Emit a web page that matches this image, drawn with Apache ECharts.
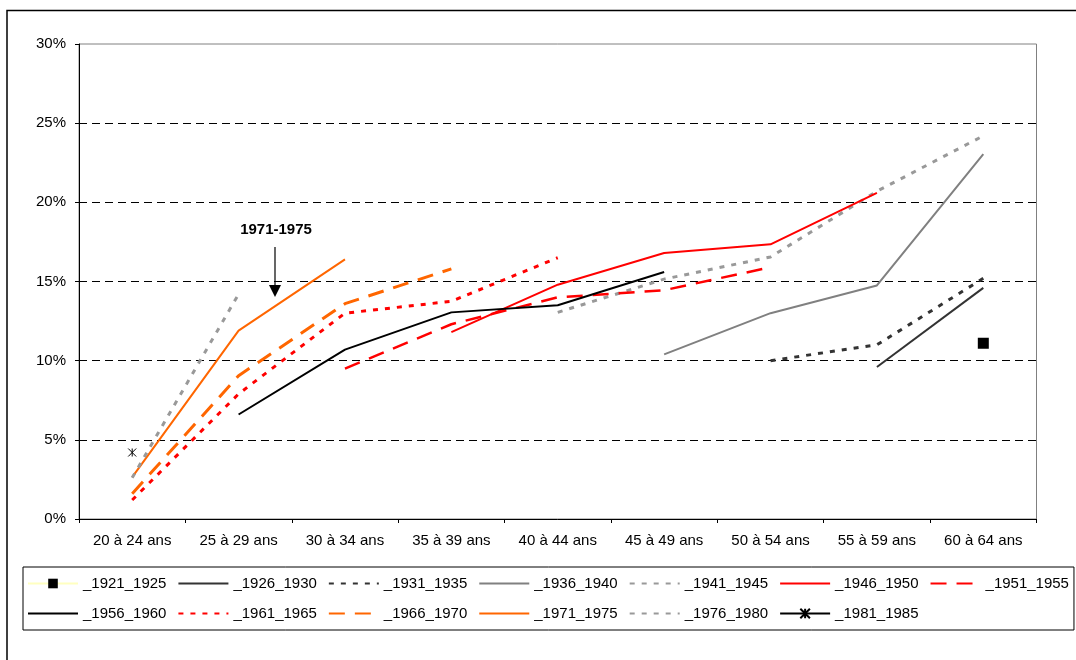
<!DOCTYPE html>
<html>
<head>
<meta charset="utf-8">
<script src="https://cdn.jsdelivr.net/npm/echarts@6/dist/echarts.min.js"></script>
<style>
html,body{margin:0;padding:0;background:#fff;}
#chart{width:1076px;height:660px;}
</style>
</head>
<body>
<div id="chart"></div>
<script>
const categories = ['20 à 24 ans','25 à 29 ans','30 à 34 ans','35 à 39 ans','40 à 44 ans','45 à 49 ans','50 à 54 ans','55 à 59 ans','60 à 64 ans'];
const yTicks = [0, 5, 10, 15, 20, 25, 30];

const s1921_1925 = [null, null, null, null, null, null, null, null, 11.1];
const s1926_1930 = [null, null, null, null, null, null, null, 9.6, 14.6];
const s1931_1935 = [null, null, null, null, null, null, 10.0, 11.0, 15.2];
const s1936_1940 = [null, null, null, null, null, 10.4, 13.0, 14.75, 23.05];
const s1941_1945 = [null, null, null, null, 13.05, 15.15, 16.55, 20.7, 24.2];
const s1946_1950 = [null, null, null, 11.8, 14.8, 16.8, 17.35, 20.6, null];
const s1951_1955 = [null, null, 9.5, 12.3, 14.0, 14.45, 15.9, null, null];
const s1956_1960 = [null, 6.6, 10.7, 13.05, 13.5, 15.6, null, null, null];
const s1961_1965 = [1.2, 7.9, 13.0, 13.75, 16.5, null, null, null, null];
const s1966_1970 = [1.6, 9.05, 13.6, 15.8, null, null, null, null, null];
const s1971_1975 = [2.65, 11.9, 16.4, null, null, null, null, null, null];
const s1976_1980 = [2.6, 14.2, null, null, null, null, null, null, null];
const s1981_1985 = [4.2, null, null, null, null, null, null, null, null];

const annotationText = '1971-1975';

const FONT = '"Liberation Sans", Arial, sans-serif';
const DOT = [5, 7];
const DASH = [16, 10];
const ASTERISK = 'path://M0,0L10,10M10,0L0,10M5,0L5,10';

function lineSeries(name, data, color, width, type, extra) {
  return Object.assign({
    name: name,
    type: 'line',
    data: data,
    symbol: 'none',
    connectNulls: false,
    silent: true,
    animation: false,
    lineStyle: { color: color, width: width, type: type },
    itemStyle: { color: color }
  }, extra || {});
}

const series = [
  lineSeries('_1921_1925', s1921_1925, '#ffffc0', 1.5, 'solid', {
    symbol: 'rect', symbolSize: 11, showSymbol: true,
    itemStyle: { color: '#000' }
  }),
  lineSeries('_1926_1930', s1926_1930, '#333333', 2, 'solid'),
  lineSeries('_1931_1935', s1931_1935, '#333333', 3, DOT),
  lineSeries('_1936_1940', s1936_1940, '#808080', 2, 'solid'),
  lineSeries('_1941_1945', s1941_1945, '#999999', 3, DOT),
  lineSeries('_1946_1950', s1946_1950, '#ff0000', 2, 'solid'),
  lineSeries('_1951_1955', s1951_1955, '#ff0000', 2.5, DASH),
  lineSeries('_1956_1960', s1956_1960, '#000000', 2, 'solid'),
  lineSeries('_1961_1965', s1961_1965, '#ff0000', 3, DOT),
  lineSeries('_1966_1970', s1966_1970, '#ff6600', 3, DASH),
  lineSeries('_1971_1975', s1971_1975, '#ff6600', 2, 'solid'),
  lineSeries('_1976_1980', s1976_1980, '#999999', 3, DOT),
  lineSeries('_1981_1985', s1981_1985, '#000000', 3, 'solid', {
    symbol: ASTERISK, symbolSize: 8, showSymbol: true,
    itemStyle: { color: 'none', borderColor: '#000', borderWidth: 1 }
  })
];

const legendData = series.map(s => {
  const item = { name: s.name };
  if (s.symbol === 'none') item.itemStyle = { opacity: 0 };
  return item;
});

const chart = echarts.init(document.getElementById('chart'), null, { renderer: 'canvas' });
chart.setOption({
  animation: false,
  backgroundColor: '#fff',
  textStyle: { fontFamily: FONT },
  grid: {
    left: 79, right: 39.5, top: 44, bottom: 141,
    show: true, borderColor: '#808080', borderWidth: 1, backgroundColor: 'transparent'
  },
  xAxis: {
    type: 'category',
    data: categories,
    boundaryGap: true,
    axisLine: { lineStyle: { color: '#000', width: 1 } },
    axisTick: { show: true, length: 4, lineStyle: { color: '#000' } },
    axisLabel: { color: '#000', fontSize: 15, fontFamily: FONT, margin: 14, interval: 0 },
    splitLine: { show: false }
  },
  yAxis: {
    type: 'value',
    min: yTicks[0], max: yTicks[yTicks.length - 1], interval: yTicks[1] - yTicks[0],
    axisLine: { show: true, lineStyle: { color: '#000', width: 1 } },
    axisTick: { show: true, length: 4, lineStyle: { color: '#000' } },
    axisLabel: { color: '#000', fontSize: 15, fontFamily: FONT, margin: 13, formatter: '{value}%' },
    splitLine: {
      show: true,
      lineStyle: {
        color: ['rgba(0,0,0,0)', '#000', '#000', '#000', '#000', '#000', 'rgba(0,0,0,0)'],
        width: 1, type: [8, 5]
      }
    }
  },
  legend: {
    data: legendData,
    left: 23, top: 567,
    width: 1050,
    orient: 'horizontal',
    padding: [7, 5, 7, 4],
    itemWidth: 50, itemHeight: 12, itemGap: 11,
    borderColor: '#000', borderWidth: 1,
    selectedMode: false,
    textStyle: { fontSize: 15, lineHeight: 19, color: '#000', fontFamily: FONT }
  },
  graphic: [
    {
      type: 'rect', silent: true,
      shape: { x: 7, y: 10.5, width: 1200, height: 800 },
      style: { fill: 'none', stroke: '#000', lineWidth: 1.5 },
      z: 100
    },
    {
      type: 'text', silent: true,
      x: 276, y: 230,
      style: { text: annotationText, font: 'bold 15px ' + FONT, fill: '#000', align: 'center', verticalAlign: 'middle' },
      z: 100
    },
    {
      type: 'line', silent: true,
      shape: { x1: 275, y1: 247, x2: 275, y2: 286 },
      style: { stroke: '#000', lineWidth: 1.2 },
      z: 100
    },
    {
      type: 'polygon', silent: true,
      shape: { points: [[269, 285], [281, 285], [275, 297]] },
      style: { fill: '#000' },
      z: 100
    }
  ],
  series: series
});
</script>
</body>
</html>
